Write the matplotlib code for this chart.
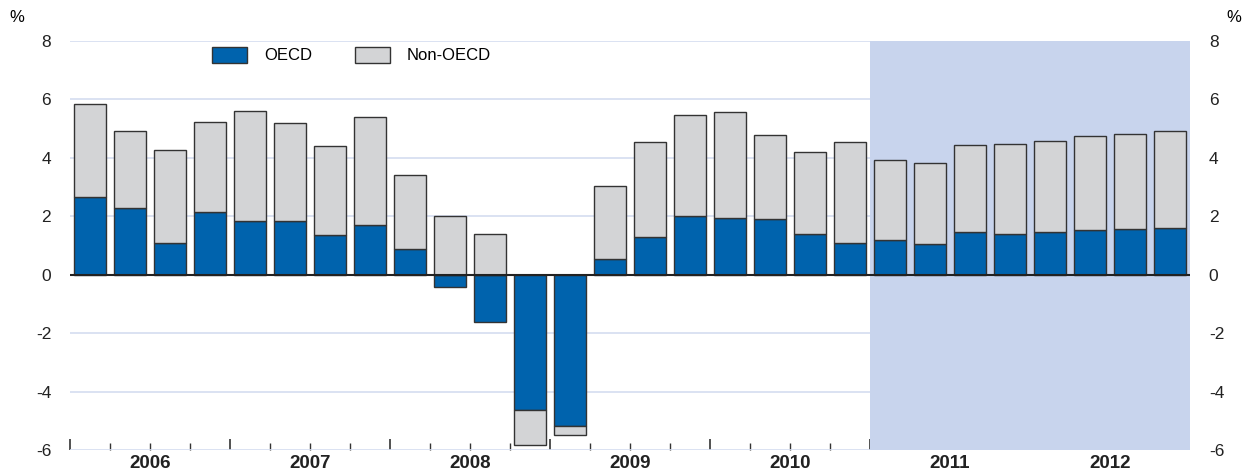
import numpy as np
import matplotlib
matplotlib.use("Agg")
import matplotlib.pyplot as plt

plt.rcParams['font.family'] = ['Liberation Sans', 'DejaVu Sans']
plt.rcParams['axes.unicode_minus'] = False

# quarterly contributions, 2006Q1 - 2012Q4 (%)
years = ['2006', '2007', '2008', '2009', '2010', '2011', '2012']
oecd = [2.66, 2.28, 1.07, 2.13, 1.85, 1.85, 1.36, 1.71,
        0.87, -0.41, -1.61, -4.62, -5.17, 0.53, 1.30, 2.01,
        1.93, 1.89, 1.40, 1.10, 1.19, 1.04, 1.46, 1.40,
        1.46, 1.54, 1.56, 1.59]
non_oecd = [3.17, 2.63, 3.19, 3.10, 3.75, 3.34, 3.03, 3.69,
            2.55, 2.00, 1.39, -1.20, -0.30, 2.52, 3.25, 3.47,
            3.64, 2.89, 2.81, 3.45, 2.74, 2.77, 2.97, 3.07,
            3.11, 3.21, 3.25, 3.32]
forecast_start = 20  # first projected quarter (2011Q1)

BLUE = '#0063ad'
GREY = '#d3d4d6'
SHADE = '#c8d4ed'
GRID = '#d4ddf0'

oecd = np.array(oecd)
non_oecd = np.array(non_oecd)
x = np.arange(len(oecd))

# grey stacks on blue when signs agree, otherwise starts at zero
same_sign = np.sign(oecd) == np.sign(non_oecd)
bottom = np.where(same_sign, oecd, 0.0)

fig = plt.figure(figsize=(12.58, 4.73), dpi=100)
ax = fig.add_axes([70 / 1258, 23 / 473, 1120 / 1258, 409 / 473])
ax.set_axisbelow(True)

ax.axvspan(forecast_start - 0.5, len(x) - 0.5, color=SHADE, zorder=1, lw=0)

ax.bar(x, oecd, width=0.82, color=BLUE, edgecolor='#333333', linewidth=1,
       label='OECD', zorder=2)
ax.bar(x, non_oecd, width=0.82, bottom=bottom, color=GREY, edgecolor='#333333',
       linewidth=1, label='Non-OECD', zorder=2)
ax.axhline(0, color='#222222', lw=1.5, zorder=3)

ax.set_xlim(-0.5, len(x) - 0.5)
ax.set_ylim(-6, 8)
ax.set_yticks(np.arange(-6, 9, 2))
ax.yaxis.grid(True, color=GRID, lw=1.2)
for s in ax.spines.values():
    s.set_visible(False)

ax.tick_params(axis='y', left=False, right=False, labelleft=True, labelright=True,
               labelsize=12.5, colors='#222222')
ax.tick_params(axis='y', which='major', pad=10)

# quarter ticks, longer at year boundaries (the shaded part hides its own)
ax.set_xticks(np.arange(-0.5, forecast_start, 4))
ax.set_xticks(np.arange(-0.5, forecast_start, 1), minor=True)
ax.tick_params(axis='x', which='major', direction='in', length=8, width=1.2,
               color='#333333', labelbottom=False)
ax.tick_params(axis='x', which='minor', direction='in', length=5, width=1,
               color='#333333')

for i, yr in enumerate(years):
    ax.text(4 * i + 1.5, -0.032, yr, transform=ax.get_xaxis_transform(),
            ha='center', va='center', fontsize=13.5, fontweight='bold', color='#222222')

ax.legend(loc='center left', bbox_to_anchor=(0.127, 0.966), ncol=2, frameon=False,
          fontsize=12, handlelength=2.1, handleheight=1.1, handletextpad=1.0,
          columnspacing=2.6, borderpad=0, borderaxespad=0)

fig.text(17 / 1258, 1 - 18 / 473, '%', fontsize=12, ha='center', va='center')
fig.text(1234 / 1258, 1 - 18 / 473, '%', fontsize=12, ha='center', va='center')

fig.savefig('out.png', dpi=100)
